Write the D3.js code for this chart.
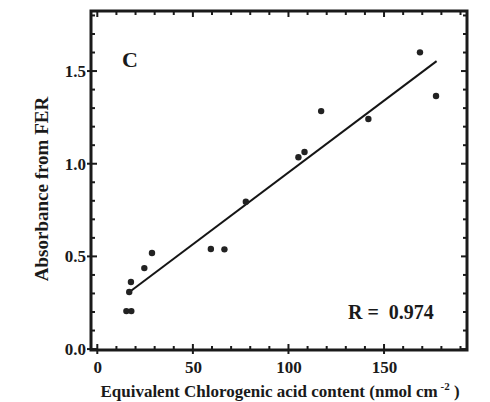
<!DOCTYPE html>
<html>
<head>
<meta charset="utf-8">
<script src="https://cdn.jsdelivr.net/npm/d3@7"></script>
<style>
  html, body { margin: 0; padding: 0; background: #fff; }
  svg { display: block; }
  text { font-family: "Liberation Serif", "Times New Roman", serif; font-weight: bold; fill: #1a1a1a; }
</style>
</head>
<body>
<svg id="chart" width="490" height="402"></svg>
<script>
// Chlorogenic acid content vs. FER absorbance
const chlorogenic = [15.2, 17.8, 16.7, 17.6, 24.6, 28.6, 59.4, 66.5, 77.7, 105.2, 108.4, 117.1, 141.8, 168.8, 177.2];
const absorbance  = [0.205, 0.205, 0.308, 0.362, 0.437, 0.518, 0.540, 0.538, 0.795, 1.035, 1.063, 1.284, 1.241, 1.601, 1.365];

// Linear fit drawn across the data range
const fitSlope = 0.00775;
const fitIntercept = 0.178;
const fitRange = [16.8, 177.5];

const xMajorTicks = [0, 50, 100, 150];
const xMinorTicks = d3.range(10, 191, 10);
const yMajorTicks = [0.0, 0.5, 1.0, 1.5];
const yMinorTicks = d3.range(0.1, 1.81, 0.1);

const panelLabel = "C";
const statLabel = "R =  0.974";

const svg = d3.select("#chart");
const plotLeft = 91, plotRight = 467, plotTop = 11, plotBottom = 350;

const x = d3.scaleLinear().domain([-3.3, 193.4]).range([plotLeft, plotRight]);
const y = d3.scaleLinear().domain([-0.005, 1.824]).range([plotBottom, plotTop]);

const ink = "#1a1a1a";

// Bottom axis labels
const bottomAxis = svg.append("g").attr("transform", `translate(0,${plotBottom})`);
bottomAxis.call(d3.axisBottom(x).tickValues(xMajorTicks).tickFormat(d3.format("d")).tickSize(0).tickPadding(11));
bottomAxis.select(".domain").remove();
bottomAxis.selectAll("text").style("font-size", "17px").style("font-family", "Liberation Serif").style("font-weight", "bold").attr("fill", ink);

// Left axis labels
const leftAxis = svg.append("g").attr("transform", `translate(${plotLeft},0)`);
leftAxis.call(d3.axisLeft(y).tickValues(yMajorTicks).tickFormat(d3.format(".1f")).tickSize(0).tickPadding(5));
leftAxis.select(".domain").remove();
leftAxis.selectAll("text").style("font-size", "17px").style("font-family", "Liberation Serif").style("font-weight", "bold").attr("fill", ink);

// Tick marks on all four sides, pointing inward
const ticks = svg.append("g").attr("stroke", ink);
function xTicks(vals, len, y0, dir, out) {
  ticks.append("g").selectAll("line").data(vals).join("line")
    .attr("x1", d => x(d)).attr("x2", d => x(d))
    .attr("y1", y0 - dir * out).attr("y2", y0 + dir * len)
    .attr("stroke-width", 2);
}
function yTicks(vals, len, x0, dir, out) {
  ticks.append("g").selectAll("line").data(vals).join("line")
    .attr("y1", d => y(d)).attr("y2", d => y(d))
    .attr("x1", x0 - dir * out).attr("x2", x0 + dir * len)
    .attr("stroke-width", 2);
}
const xMinorOnly = xMinorTicks.filter(v => !xMajorTicks.includes(v));
const yMinorOnly = yMinorTicks.filter(v => !yMajorTicks.some(m => Math.abs(m - v) < 1e-6));
xTicks(xMinorOnly, 4, plotBottom, -1, 0);
xTicks(xMajorTicks, 6, plotBottom, -1, 4);
xTicks(xMinorOnly, 4, plotTop, 1, 0);
xTicks(xMajorTicks, 6, plotTop, 1, 0);
yTicks(yMinorOnly, 4, plotLeft, 1, 0);
yTicks(yMajorTicks, 6, plotLeft, 1, 4);
yTicks(yMinorOnly, 4, plotRight, -1, 0);
yTicks(yMajorTicks, 6, plotRight, -1, 0);

// Frame
svg.append("rect")
  .attr("x", plotLeft).attr("y", plotTop)
  .attr("width", plotRight - plotLeft).attr("height", plotBottom - plotTop)
  .attr("fill", "none").attr("stroke", ink).attr("stroke-width", 3);

// Regression line
const fitLine = d3.line().x(d => x(d)).y(d => y(fitIntercept + fitSlope * d));
svg.append("path")
  .datum(fitRange)
  .attr("d", fitLine)
  .attr("fill", "none").attr("stroke", "#151515").attr("stroke-width", 2);

// Data points
svg.append("g").selectAll("circle")
  .data(chlorogenic.map((c, i) => [c, absorbance[i]]))
  .join("circle")
  .attr("cx", d => x(d[0]))
  .attr("cy", d => y(d[1]))
  .attr("r", 3.2)
  .attr("fill", "#222");

// Panel label and correlation
svg.append("text").attr("x", 122).attr("y", 67).style("font-size", "22px").text(panelLabel);
svg.append("text").attr("x", 348).attr("y", 319).style("font-size", "20px")
  .style("white-space", "pre").text(statLabel);

// Axis titles
svg.append("text")
  .attr("transform", "translate(48,189) rotate(-90)")
  .attr("text-anchor", "middle")
  .style("font-size", "19px")
  .text("Absorbance from FER");

const xt = svg.append("text")
  .attr("x", 280).attr("y", 397)
  .attr("text-anchor", "middle")
  .style("font-size", "17px");
xt.append("tspan").text("Equivalent Chlorogenic acid content (nmol cm");
xt.append("tspan").attr("dy", -7).style("font-size", "11px").text(" -2");
xt.append("tspan").attr("dy", 7).text(" )");
</script>
</body>
</html>
